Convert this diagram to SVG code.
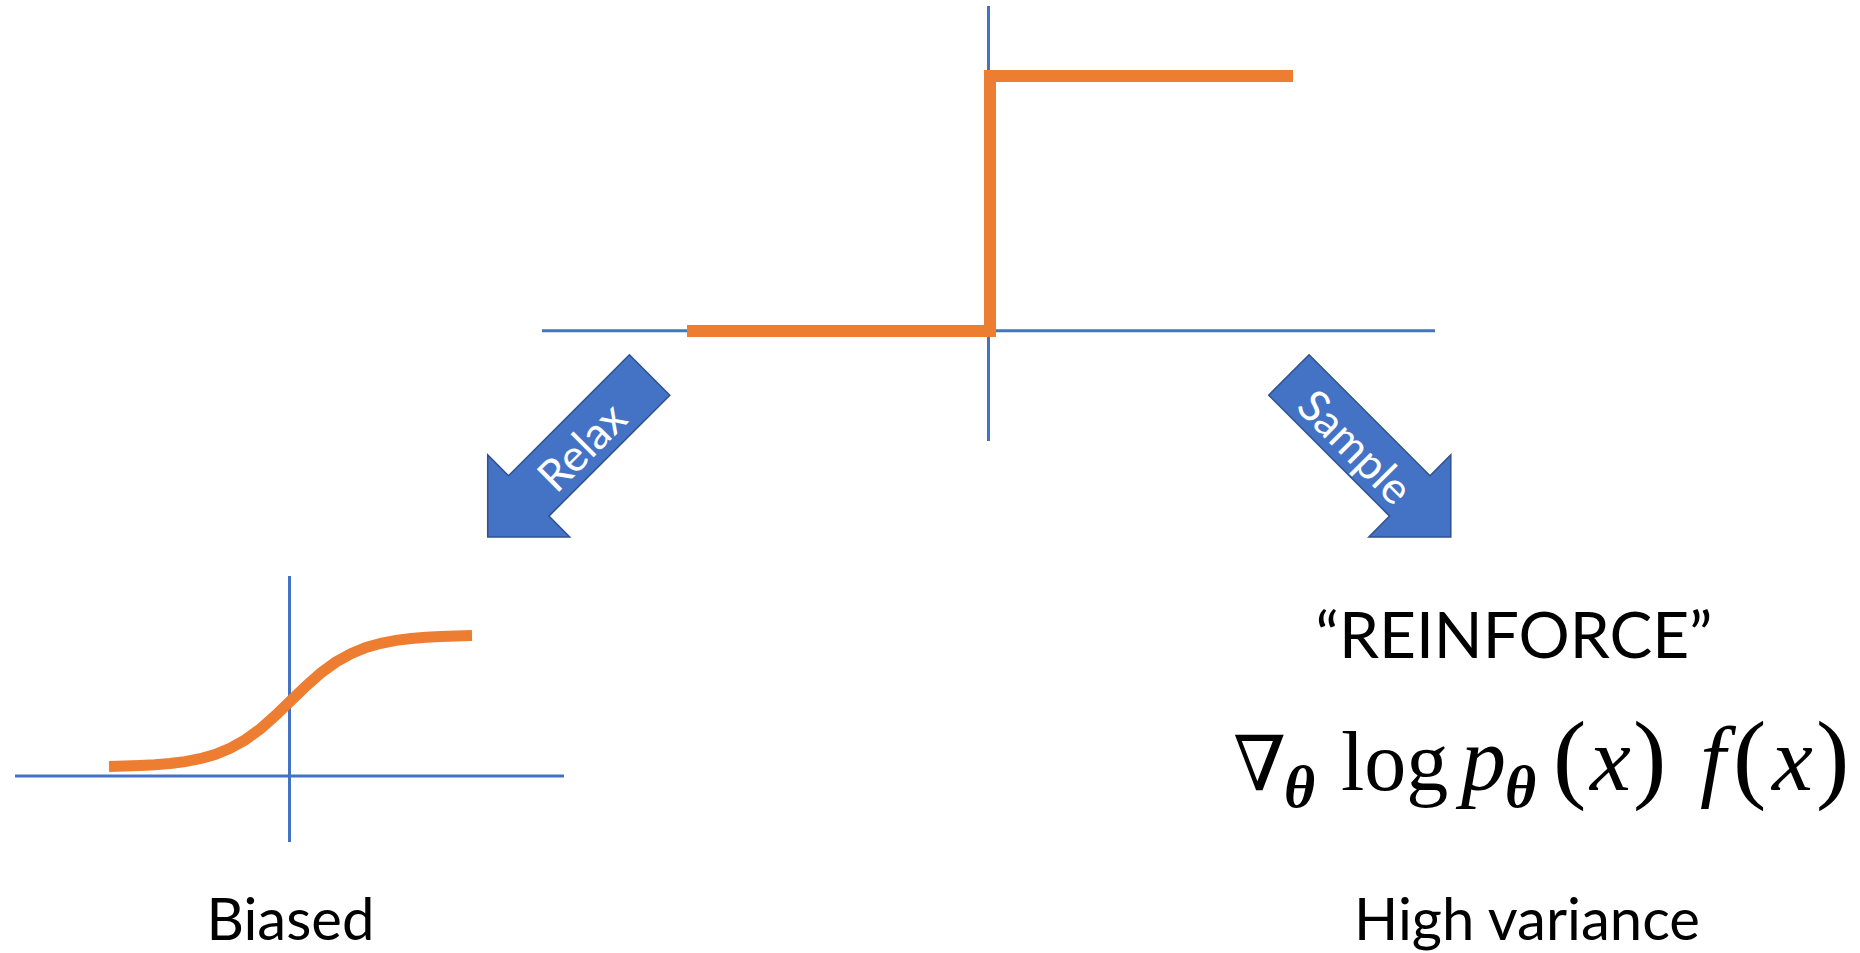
<svg xmlns="http://www.w3.org/2000/svg" width="1860" height="953" viewBox="0 0 1860 953">
<style>
.axis{stroke:#4472C4;stroke-width:3;fill:none}
.curve{stroke:#ED7D31;stroke-width:12;fill:none;stroke-linejoin:miter;stroke-linecap:butt}
.arrow{fill:#4472C4;stroke:#2F528F;stroke-width:1.5;stroke-linejoin:miter}
.atext{font-family:Lato,'Open Sans',sans-serif;font-size:44px;fill:#FFFFFF;text-anchor:middle}
.label{font-family:Lato,'Open Sans',sans-serif;font-size:58px;fill:#000000;text-anchor:middle}
.math{font-family:'Liberation Serif','DejaVu Serif',serif;font-size:84px;fill:#000000}
.mi{font-style:italic;font-size:92px}
.par{font-size:100px}
.sub{font-family:'Liberation Serif','DejaVu Serif',serif;font-size:60px;font-style:italic;font-weight:bold;fill:#000000}
</style>
<rect width="1860" height="953" fill="#FFFFFF"/>
<g id="step-chart">
<line class="axis" x1="542" y1="330.7" x2="1435" y2="330.7"/>
<line class="axis" x1="988.5" y1="6" x2="988.5" y2="441"/>
<path class="curve" d="M687,331 H990 V76 H1293"/>
</g>
<g id="connectors">
<g id="relax-arrow">
<polygon class="arrow" points="629.4,354.8 669.8,395.2 548.9,516.1 569.7,536.9 487.7,536.9 487.7,454.9 508.5,475.7"/>
<text class="atext" transform="translate(582,447) rotate(-45)" dy="0.35em">Relax</text>
</g>
<g id="sample-arrow">
<polygon class="arrow" points="1309.1,354.8 1268.7,395.2 1389.6,516.1 1368.8,536.9 1450.8,536.9 1450.8,454.9 1430,475.7"/>
<text class="atext" transform="translate(1355,447) rotate(45)" dy="0.35em">Sample</text>
</g>
</g>
<g id="sigmoid-chart">
<line class="axis" x1="15" y1="776" x2="564" y2="776"/>
<line class="axis" x1="289.5" y1="576" x2="289.5" y2="842"/>
<polyline class="curve" style="stroke-width:11" points="109,766.4 125,766.1 140,765.5 155,764.7 170,763.5 185,761.6 200,758.7 215,754.5 230,748.4 245,740 260,729.1 275,716 290.5,701 306,686 321,672.9 336,662 351,653.6 366,647.5 381,643.3 396,640.4 411,638.5 426,637.3 441,636.5 456,635.9 472,635.6"/>
<text class="label" x="290.5" y="940">Biased</text>
</g>
<g id="reinforce">
<text class="label" x="1514" y="658" style="font-size:64px">“REINFORCE”</text>
<g id="formula">
<text class="math" x="1233" y="790" style="font-family:'DejaVu Serif',serif;font-size:76px">∇</text>
<text class="sub" x="1284" y="807">θ</text>
<text class="math" x="1341" y="790">log</text>
<text class="math mi" x="1461" y="790" style="font-size:90px">p</text>
<text class="sub" x="1505" y="807">θ</text>
<text class="math par" x="1553" y="790">(</text>
<text class="math mi" x="1590" y="790">x</text>
<text class="math par" x="1633" y="790">)</text>
<text class="math mi" x="1700" y="790">f</text>
<text class="math par" x="1733" y="790">(</text>
<text class="math mi" x="1772" y="790">x</text>
<text class="math par" x="1816" y="790">)</text>
</g>
<text class="label" x="1527" y="940">High variance</text>
</g>
</svg>
